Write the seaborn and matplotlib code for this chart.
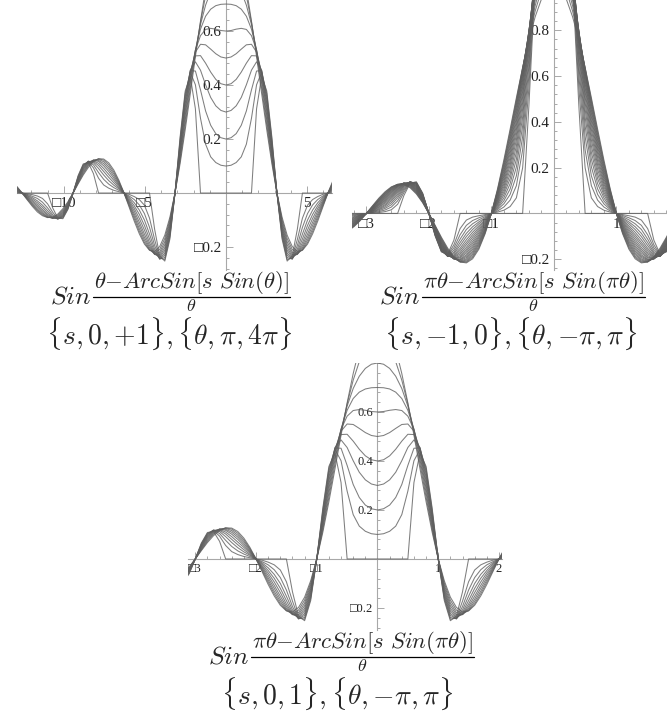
import numpy as np
import pandas as pd
import matplotlib.pyplot as plt
import seaborn as sns
from matplotlib.lines import Line2D
from matplotlib.ticker import FixedLocator, MultipleLocator

sns.set_theme(style="white")
plt.rcParams["font.family"] = ["Liberation Serif", "DejaVu Serif"]
plt.rcParams["mathtext.fontset"] = "cm"

# abscissa in units of theta/pi (theta >= 0 only, every curve is even in theta)
u = [0.0, 0.1, 0.2, 0.3, 0.4, 0.5, 0.6, 0.7, 0.8, 0.9, 1.0,
     1.1, 1.2, 1.3, 1.4, 1.5, 1.6, 1.7, 1.8, 1.9, 2.0,
     2.1, 2.2, 2.3, 2.4, 2.5, 2.6, 2.7, 2.8, 2.9, 3.0,
     3.1, 3.2, 3.3, 3.4, 3.5, 3.6, 3.7, 3.8, 3.9, 4.0, 4.1]

# family s = 0 ... +1 (first and third panel)
a_s00 = [1.000, 0.984, 0.935, 0.858, 0.757, 0.637, 0.505, 0.368, 0.234, 0.109, 0.000, -0.089, -0.156, -0.198, -0.216, -0.212, -0.189, -0.151, -0.104, -0.052, 0.000, 0.047, 0.085, 0.112, 0.126, 0.127, 0.116, 0.095, 0.067, 0.034, 0.000, -0.032, -0.058, -0.078, -0.089, -0.091, -0.084, -0.070, -0.049, -0.025, 0.000, 0.024]
a_s01 = [0.900, 0.890, 0.858, 0.805, 0.730, 0.633, 0.518, 0.388, 0.252, 0.120, 0.000, -0.098, -0.168, -0.209, -0.222, -0.211, -0.183, -0.142, -0.095, -0.047, 0.000, 0.042, 0.078, 0.105, 0.122, 0.127, 0.119, 0.101, 0.072, 0.037, 0.000, -0.035, -0.063, -0.082, -0.091, -0.090, -0.081, -0.065, -0.045, -0.023, 0.000, 0.022]
a_s02 = [0.800, 0.795, 0.778, 0.746, 0.696, 0.624, 0.527, 0.406, 0.270, 0.130, 0.000, -0.106, -0.180, -0.219, -0.226, -0.208, -0.174, -0.132, -0.086, -0.042, 0.000, 0.038, 0.071, 0.097, 0.116, 0.125, 0.122, 0.105, 0.077, 0.040, 0.000, -0.038, -0.068, -0.086, -0.093, -0.089, -0.077, -0.061, -0.041, -0.020, 0.000, 0.019]
a_s03 = [0.700, 0.699, 0.694, 0.681, 0.655, 0.607, 0.530, 0.422, 0.287, 0.140, 0.000, -0.115, -0.191, -0.227, -0.227, -0.202, -0.164, -0.120, -0.077, -0.037, 0.000, 0.033, 0.063, 0.089, 0.109, 0.121, 0.122, 0.109, 0.082, 0.043, 0.000, -0.041, -0.072, -0.089, -0.094, -0.087, -0.073, -0.055, -0.037, -0.018, 0.000, 0.017]
a_s04 = [0.600, 0.602, 0.607, 0.610, 0.606, 0.583, 0.529, 0.435, 0.303, 0.150, 0.000, -0.123, -0.202, -0.234, -0.227, -0.194, -0.152, -0.108, -0.067, -0.032, 0.000, 0.029, 0.055, 0.080, 0.101, 0.117, 0.122, 0.113, 0.087, 0.047, 0.000, -0.044, -0.076, -0.092, -0.093, -0.083, -0.067, -0.049, -0.032, -0.015, 0.000, 0.015]
a_s05 = [0.500, 0.504, 0.516, 0.533, 0.549, 0.551, 0.522, 0.445, 0.318, 0.160, 0.000, -0.131, -0.212, -0.239, -0.224, -0.184, -0.137, -0.094, -0.057, -0.027, 0.000, 0.024, 0.047, 0.069, 0.091, 0.110, 0.120, 0.115, 0.091, 0.050, 0.000, -0.046, -0.080, -0.094, -0.092, -0.079, -0.061, -0.043, -0.027, -0.013, 0.000, 0.012]
a_s06 = [0.400, 0.405, 0.421, 0.448, 0.481, 0.509, 0.508, 0.451, 0.332, 0.170, 0.000, -0.139, -0.222, -0.243, -0.218, -0.170, -0.120, -0.079, -0.047, -0.021, 0.000, 0.019, 0.038, 0.058, 0.080, 0.102, 0.117, 0.117, 0.095, 0.053, 0.000, -0.049, -0.083, -0.096, -0.090, -0.073, -0.053, -0.036, -0.022, -0.010, 0.000, 0.010]
a_s07 = [0.300, 0.306, 0.323, 0.354, 0.401, 0.455, 0.486, 0.455, 0.346, 0.179, 0.000, -0.147, -0.230, -0.245, -0.208, -0.152, -0.100, -0.063, -0.036, -0.016, 0.000, 0.015, 0.029, 0.046, 0.067, 0.091, 0.112, 0.118, 0.099, 0.056, 0.000, -0.052, -0.086, -0.096, -0.086, -0.065, -0.045, -0.029, -0.017, -0.008, 0.000, 0.007]
a_s08 = [0.200, 0.205, 0.220, 0.251, 0.304, 0.382, 0.452, 0.453, 0.358, 0.189, 0.000, -0.155, -0.239, -0.244, -0.194, -0.127, -0.076, -0.044, -0.024, -0.011, 0.000, 0.010, 0.020, 0.033, 0.051, 0.076, 0.104, 0.118, 0.102, 0.059, 0.000, -0.055, -0.089, -0.096, -0.080, -0.055, -0.034, -0.020, -0.012, -0.005, 0.000, 0.005]
a_s09 = [0.100, 0.103, 0.113, 0.134, 0.181, 0.277, 0.401, 0.447, 0.369, 0.199, 0.000, -0.162, -0.246, -0.241, -0.172, -0.093, -0.045, -0.024, -0.013, -0.005, 0.000, 0.005, 0.010, 0.018, 0.030, 0.055, 0.093, 0.116, 0.105, 0.062, 0.000, -0.058, -0.092, -0.095, -0.071, -0.040, -0.020, -0.011, -0.006, -0.003, 0.000, 0.003]
a_s10 = [0.000, 0.000, 0.000, 0.000, 0.000, 0.000, 0.312, 0.432, 0.378, 0.208, 0.000, -0.170, -0.252, -0.233, -0.134, 0.000, 0.000, 0.000, 0.000, 0.000, 0.000, 0.000, 0.000, 0.000, 0.000, 0.000, 0.072, 0.112, 0.108, 0.065, 0.000, -0.060, -0.095, -0.092, -0.055, 0.000, 0.000, 0.000, 0.000, 0.000, 0.000, 0.000]

# family s = -1 ... 0 (second panel), s = 0 is a_s00
b_s005 = [1.050, 1.030, 0.973, 0.883, 0.768, 0.636, 0.496, 0.357, 0.224, 0.104, 0.000, -0.085, -0.150, -0.192, -0.213, -0.212, -0.192, -0.156, -0.108, -0.054, 0.000, 0.049, 0.088, 0.115, 0.128, 0.127, 0.115, 0.092, 0.064, 0.032, 0.000, -0.030, -0.056, -0.076]
b_s010 = [1.100, 1.077, 1.010, 0.906, 0.777, 0.633, 0.487, 0.345, 0.215, 0.099, 0.000, -0.081, -0.143, -0.186, -0.209, -0.211, -0.194, -0.160, -0.112, -0.057, 0.000, 0.051, 0.092, 0.118, 0.129, 0.127, 0.112, 0.089, 0.061, 0.031, 0.000, -0.029, -0.054, -0.073]
b_s015 = [1.150, 1.123, 1.045, 0.928, 0.784, 0.629, 0.476, 0.333, 0.205, 0.094, 0.000, -0.077, -0.136, -0.179, -0.204, -0.210, -0.196, -0.164, -0.116, -0.059, 0.000, 0.053, 0.095, 0.121, 0.131, 0.126, 0.110, 0.086, 0.058, 0.029, 0.000, -0.027, -0.051, -0.071]
b_s020 = [1.200, 1.169, 1.080, 0.948, 0.790, 0.624, 0.464, 0.320, 0.194, 0.088, 0.000, -0.072, -0.130, -0.172, -0.199, -0.208, -0.197, -0.167, -0.120, -0.062, 0.000, 0.056, 0.098, 0.124, 0.132, 0.125, 0.107, 0.083, 0.056, 0.027, 0.000, -0.026, -0.049, -0.068]
b_s025 = [1.250, 1.215, 1.115, 0.967, 0.794, 0.616, 0.451, 0.306, 0.184, 0.083, 0.000, -0.068, -0.123, -0.165, -0.193, -0.205, -0.198, -0.171, -0.124, -0.064, 0.000, 0.058, 0.101, 0.126, 0.132, 0.123, 0.104, 0.079, 0.053, 0.026, 0.000, -0.024, -0.046, -0.065]
b_s030 = [1.300, 1.260, 1.148, 0.984, 0.796, 0.607, 0.437, 0.292, 0.173, 0.078, 0.000, -0.064, -0.116, -0.157, -0.187, -0.202, -0.199, -0.174, -0.128, -0.066, 0.000, 0.060, 0.104, 0.128, 0.133, 0.121, 0.101, 0.076, 0.050, 0.024, 0.000, -0.023, -0.043, -0.062]
b_s035 = [1.350, 1.305, 1.180, 1.000, 0.796, 0.596, 0.421, 0.277, 0.163, 0.072, 0.000, -0.059, -0.108, -0.149, -0.181, -0.199, -0.199, -0.176, -0.131, -0.069, 0.000, 0.062, 0.107, 0.130, 0.133, 0.119, 0.097, 0.072, 0.046, 0.022, 0.000, -0.021, -0.041, -0.059]
b_s040 = [1.400, 1.350, 1.212, 1.014, 0.793, 0.583, 0.404, 0.262, 0.152, 0.067, 0.000, -0.055, -0.101, -0.141, -0.173, -0.194, -0.198, -0.179, -0.135, -0.071, 0.000, 0.064, 0.110, 0.132, 0.132, 0.117, 0.093, 0.068, 0.043, 0.021, 0.000, -0.019, -0.038, -0.055]
b_s045 = [1.450, 1.395, 1.243, 1.027, 0.789, 0.569, 0.386, 0.245, 0.140, 0.061, 0.000, -0.050, -0.094, -0.132, -0.165, -0.190, -0.197, -0.181, -0.138, -0.073, 0.000, 0.066, 0.113, 0.134, 0.132, 0.114, 0.089, 0.064, 0.040, 0.019, 0.000, -0.018, -0.035, -0.052]
b_s050 = [1.500, 1.440, 1.273, 1.037, 0.783, 0.551, 0.366, 0.228, 0.129, 0.056, 0.000, -0.046, -0.086, -0.123, -0.157, -0.184, -0.196, -0.183, -0.141, -0.076, 0.000, 0.069, 0.116, 0.135, 0.130, 0.110, 0.084, 0.059, 0.037, 0.017, 0.000, -0.016, -0.032, -0.048]
b_s055 = [1.550, 1.484, 1.302, 1.046, 0.774, 0.532, 0.344, 0.211, 0.117, 0.051, 0.000, -0.041, -0.078, -0.113, -0.148, -0.177, -0.193, -0.185, -0.145, -0.078, 0.000, 0.071, 0.118, 0.136, 0.129, 0.106, 0.079, 0.055, 0.034, 0.016, 0.000, -0.015, -0.029, -0.045]
b_s060 = [1.600, 1.528, 1.329, 1.053, 0.762, 0.509, 0.321, 0.192, 0.105, 0.045, 0.000, -0.037, -0.070, -0.103, -0.137, -0.170, -0.190, -0.186, -0.148, -0.080, 0.000, 0.073, 0.121, 0.137, 0.127, 0.102, 0.074, 0.050, 0.030, 0.014, 0.000, -0.013, -0.026, -0.041]
b_s065 = [1.650, 1.572, 1.356, 1.058, 0.747, 0.484, 0.295, 0.172, 0.093, 0.040, 0.000, -0.032, -0.062, -0.093, -0.127, -0.161, -0.187, -0.187, -0.151, -0.083, 0.000, 0.075, 0.123, 0.138, 0.124, 0.097, 0.068, 0.045, 0.027, 0.012, 0.000, -0.011, -0.023, -0.037]
b_s070 = [1.700, 1.615, 1.382, 1.061, 0.728, 0.455, 0.267, 0.152, 0.081, 0.034, 0.000, -0.028, -0.054, -0.082, -0.115, -0.152, -0.182, -0.187, -0.154, -0.085, 0.000, 0.077, 0.126, 0.138, 0.121, 0.091, 0.062, 0.039, 0.023, 0.011, 0.000, -0.010, -0.020, -0.032]
b_s075 = [1.750, 1.658, 1.407, 1.061, 0.706, 0.421, 0.237, 0.130, 0.068, 0.028, 0.000, -0.023, -0.045, -0.070, -0.101, -0.140, -0.176, -0.187, -0.156, -0.087, 0.000, 0.079, 0.128, 0.138, 0.118, 0.084, 0.055, 0.034, 0.019, 0.009, 0.000, -0.008, -0.017, -0.028]
b_s080 = [1.800, 1.701, 1.431, 1.058, 0.678, 0.382, 0.203, 0.107, 0.055, 0.023, 0.000, -0.019, -0.037, -0.058, -0.087, -0.127, -0.170, -0.187, -0.159, -0.090, 0.000, 0.081, 0.130, 0.138, 0.113, 0.076, 0.047, 0.028, 0.016, 0.007, 0.000, -0.007, -0.014, -0.023]
b_s085 = [1.850, 1.744, 1.454, 1.052, 0.644, 0.335, 0.164, 0.083, 0.042, 0.017, 0.000, -0.014, -0.028, -0.045, -0.070, -0.112, -0.161, -0.186, -0.162, -0.092, 0.000, 0.083, 0.132, 0.137, 0.107, 0.067, 0.038, 0.022, 0.012, 0.005, 0.000, -0.005, -0.010, -0.018]
b_s090 = [1.900, 1.787, 1.475, 1.042, 0.602, 0.277, 0.121, 0.058, 0.028, 0.011, 0.000, -0.009, -0.019, -0.031, -0.052, -0.093, -0.150, -0.184, -0.164, -0.094, 0.000, 0.085, 0.134, 0.136, 0.100, 0.055, 0.028, 0.015, 0.008, 0.004, 0.000, -0.003, -0.007, -0.012]
b_s095 = [1.950, 1.829, 1.495, 1.029, 0.547, 0.199, 0.068, 0.030, 0.014, 0.006, 0.000, -0.005, -0.010, -0.016, -0.029, -0.066, -0.137, -0.181, -0.166, -0.096, 0.000, 0.087, 0.136, 0.134, 0.091, 0.040, 0.016, 0.008, 0.004, 0.002, 0.000, -0.002, -0.004, -0.006]
b_s100 = [2.000, 1.871, 1.514, 1.009, 0.468, 0.000, 0.000, 0.000, 0.000, 0.000, 0.000, 0.000, 0.000, 0.000, 0.000, 0.000, -0.117, -0.178, -0.168, -0.098, 0.000, 0.089, 0.138, 0.132, 0.078, 0.000, 0.000, 0.000, 0.000, 0.000, 0.000, 0.000, 0.000, 0.000]

s_pos = [0.0, 0.1, 0.2, 0.3, 0.4, 0.5, 0.6, 0.7, 0.8, 0.9, 1.0]
curves_pos = [a_s00, a_s01, a_s02, a_s03, a_s04, a_s05, a_s06, a_s07, a_s08, a_s09, a_s10]
s_neg = [0.0, -0.05, -0.1, -0.15, -0.2, -0.25, -0.3, -0.35, -0.4, -0.45, -0.5,
         -0.55, -0.6, -0.65, -0.7, -0.75, -0.8, -0.85, -0.9, -0.95, -1.0]
curves_neg = [a_s00, b_s005, b_s010, b_s015, b_s020, b_s025, b_s030, b_s035, b_s040, b_s045, b_s050,
              b_s055, b_s060, b_s065, b_s070, b_s075, b_s080, b_s085, b_s090, b_s095, b_s100]

BOX = "\u25a1"  # Mathematica's broken minus sign
W, H = 667, 713


def tick_text(v):
    txt = f"{abs(v):g}"
    return BOX + txt if v < 0 else txt


def family_frame(svals, curves, scale):
    parts = []
    for s, y in zip(svals, curves):
        x = np.array(u[:len(y)]) * scale
        y = np.array(y)
        parts.append(pd.DataFrame({"x": np.r_[-x[:0:-1], x],
                                   "y": np.r_[y[:0:-1], y],
                                   "s": s}))
    return pd.concat(parts, ignore_index=True)


def panel(box, df, xlim, ylim, xmajor, xminor, ymajor, yminor, fs):
    l, t, r, b = box
    ax = fig.add_axes([l / W, 1 - b / H, (r - l) / W, (b - t) / H])
    sns.lineplot(data=df, x="x", y="y", units="s", estimator=None, sort=False,
                 color="#5e5e5e", lw=0.75, alpha=0.8, ax=ax)
    ax.set(xlim=xlim, ylim=ylim, xlabel="", ylabel="")
    for side in ["top", "right"]:
        ax.spines[side].set_visible(False)
    for side in ["left", "bottom"]:
        ax.spines[side].set_position(("data", 0))
        ax.spines[side].set_color("#a8a8a8")
        ax.spines[side].set_linewidth(0.8)
        ax.spines[side].set_zorder(0)
    ax.xaxis.set_major_locator(FixedLocator(xmajor))
    ax.yaxis.set_major_locator(FixedLocator(ymajor))
    ax.xaxis.set_minor_locator(MultipleLocator(xminor))
    ax.yaxis.set_minor_locator(MultipleLocator(yminor))
    ax.set_xticklabels([tick_text(v) for v in xmajor])
    ax.set_yticklabels([tick_text(v) for v in ymajor])
    ax.tick_params(which="both", direction="in", bottom=True, left=True,
                   color="#a8a8a8", width=0.7, labelsize=fs, labelcolor="#222222")
    ax.tick_params(which="major", length=5, pad=3)
    ax.tick_params(which="minor", length=2.5)
    ax.patch.set_alpha(0)
    return ax


fig = plt.figure(figsize=(W / 100, H / 100), dpi=100)

df1 = family_frame(s_pos, curves_pos, np.pi)
panel((17, 0, 332, 270), df1, (-4.1 * np.pi, 2.08 * np.pi), (-0.285, 0.715),
      [-10, -5, 5], 1, [-0.2, 0.2, 0.4, 0.6], 0.04, 11)

df2 = family_frame(s_neg, curves_neg, 1.0)
panel((352, 0, 667, 270), df2, (-3.23, 1.81), (-0.247, 0.932),
      [-3, -2, -1, 1], 0.2, [-0.2, 0.2, 0.4, 0.6, 0.8], 0.04, 11)

df3 = family_frame(s_pos, curves_pos, 1.0)
panel((188, 363, 502, 630), df3, (-3.12, 2.05), (-0.29, 0.80),
      [-3, -2, -1, 1, 2], 0.2, [-0.2, 0.2, 0.4, 0.6], 0.04, 9)

# ---- captions: "Sin" + hand-built fraction, then the range line ----
renderer = fig.canvas.get_renderer()


def text_width(txt, fs):
    t = fig.text(0, 0, txt, fontsize=fs)
    w = t.get_window_extent(renderer).width
    t.remove()
    return w


num1 = r"$\theta{-}ArcSin[s\ Sin(\theta)]$"
num2 = r"$\pi\theta{-}ArcSin[s\ Sin(\pi\theta)]$"
rng1 = r"$\{s,0,{+1}\},\{\theta,\pi,4\pi\}$"
rng2 = r"$\{s,{-1},0\},\{\theta,{-\pi},\pi\}$"
rng3 = r"$\{s,0,1\},\{\theta,{-\pi},\pi\}$"

num_fs = 10 * 222 / text_width(num2, 10)
rng_fs = 10 * 248 / text_width(rng1, 10)
sin_fs = 18.5
den_fs = 13


def caption(xc, num, rng_x, rng_y, rng):
    # range line first; the fraction is stacked just above it
    tr = fig.text(rng_x / W, 1 - rng_y / H, rng, ha="center", va="baseline", fontsize=rng_fs)
    rng_top = H - tr.get_window_extent(renderer).y1
    td = fig.text(xc / W, 1 - (rng_top - 0.3) / H, r"$\theta$", ha="center", va="bottom",
                  fontsize=den_fs)
    bar_y = H - td.get_window_extent(renderer).y1 - 0.5
    tn = fig.text(xc / W, 1 - (bar_y - 1.5) / H, num, ha="center", va="bottom", fontsize=num_fs)
    bb = tn.get_window_extent(renderer)
    fig.add_artist(Line2D([(bb.x0 - 1) / W, (bb.x1 + 1) / W], [1 - bar_y / H] * 2,
                          transform=fig.transFigure, color="black", lw=0.9))
    fig.text((bb.x0 - 3) / W, 1 - (bar_y + 6) / H, r"$Sin$", ha="right", va="baseline",
             fontsize=sin_fs)


caption(191.5, num1, 169, 344, rng1)
caption(533.5, num2, 511, 344, rng2)
caption(362.5, num2, 337, 704, rng3)

fig.savefig("out.png", dpi=100)
